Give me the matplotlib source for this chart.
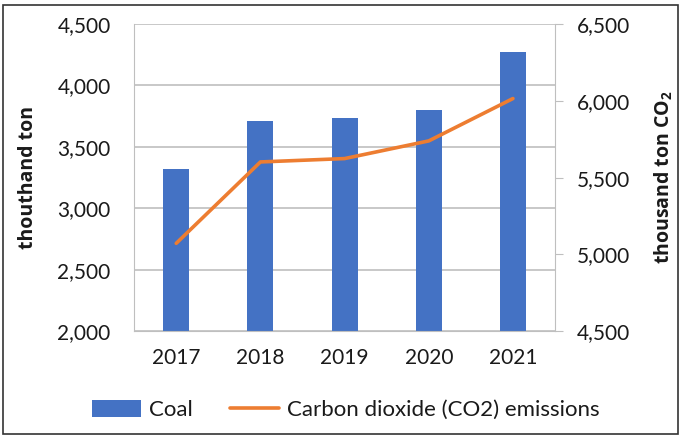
import matplotlib
matplotlib.use("Agg")
from matplotlib import pyplot as plt
from matplotlib.patches import Rectangle
from matplotlib.ticker import FuncFormatter

plt.rcParams['font.family'] = ['Lato', 'DejaVu Sans']
plt.rcParams['mathtext.fontset'] = 'custom'
plt.rcParams['mathtext.rm'] = 'Open Sans'
plt.rcParams['mathtext.bf'] = 'Open Sans:bold'

years = ["2017", "2018", "2019", "2020", "2021"]
coal = [3320, 3710, 3736, 3804, 4272]
co2 = [5072, 5602, 5624, 5739, 6015]

blue = "#4472C4"
orange = "#ED7D31"
grid_c = "#BFBFBF"
txt = "#1a1a1a"

fig = plt.figure(figsize=(6.81, 4.38), dpi=100)
ax = fig.add_axes([0.197, 0.244, 0.618, 0.701])
ax2 = ax.twinx()

x = range(len(years))
bars = ax.bar(x, coal, width=0.31, color=blue, label="Coal", zorder=2)
line, = ax2.plot(x, co2, color=orange, lw=2.6, label="Carbon dioxide (CO2) emissions",
                 solid_capstyle="round", solid_joinstyle="round")

ax.set_ylim(2000, 4500)
ax.set_yticks(range(2000, 4501, 500))
ax2.set_ylim(4500, 6500)
ax2.set_yticks(range(4500, 6501, 500))
ax.set_xlim(-0.5, 4.5)
ax.set_xticks(list(x))
ax.set_xticklabels(years)

fmt = FuncFormatter(lambda v, p: f"{int(v):,}")
ax.yaxis.set_major_formatter(fmt)
ax2.yaxis.set_major_formatter(fmt)

ax.grid(axis="y", color=grid_c, lw=1.2, zorder=0)
ax.set_axisbelow(True)
for a in (ax, ax2):
    for s in a.spines.values():
        s.set_visible(False)
ax.spines["left"].set_visible(True)
ax.spines["left"].set_color(grid_c)
ax.spines["bottom"].set_visible(True)
ax.spines["bottom"].set_color(grid_c)
ax2.spines["right"].set_visible(True)
ax2.spines["right"].set_color(grid_c)

ax.tick_params(axis="y", length=0, labelsize=15, pad=17, colors=txt)
ax.tick_params(axis="x", length=0, labelsize=15, pad=12, colors=txt)
ax2.tick_params(axis="y", length=6, color=grid_c, labelsize=15, pad=10, labelcolor=txt)

ax.set_ylabel("thouthand ton", fontsize=14, fontweight="bold", family="Open Sans",
              labelpad=14, color=txt)
ax2.set_ylabel(r"thousand ton CO$_\mathbf{2}$", fontsize=14, fontweight="bold",
               family="Open Sans", labelpad=16, color=txt)

fig.legend([bars, line], ["Coal", "Carbon dioxide (CO2) emissions"],
           loc="center", bbox_to_anchor=(0.508, 0.064), ncol=2, frameon=False,
           fontsize=16, handlelength=2.2, handleheight=0.85, columnspacing=1.7,
           handletextpad=0.35, labelcolor=txt)

fig.patches.append(Rectangle((0.004, 0.008), 0.992, 0.98, transform=fig.transFigure,
                             fill=False, edgecolor="#333333", lw=1.2))

fig.savefig("out.png", dpi=100)
